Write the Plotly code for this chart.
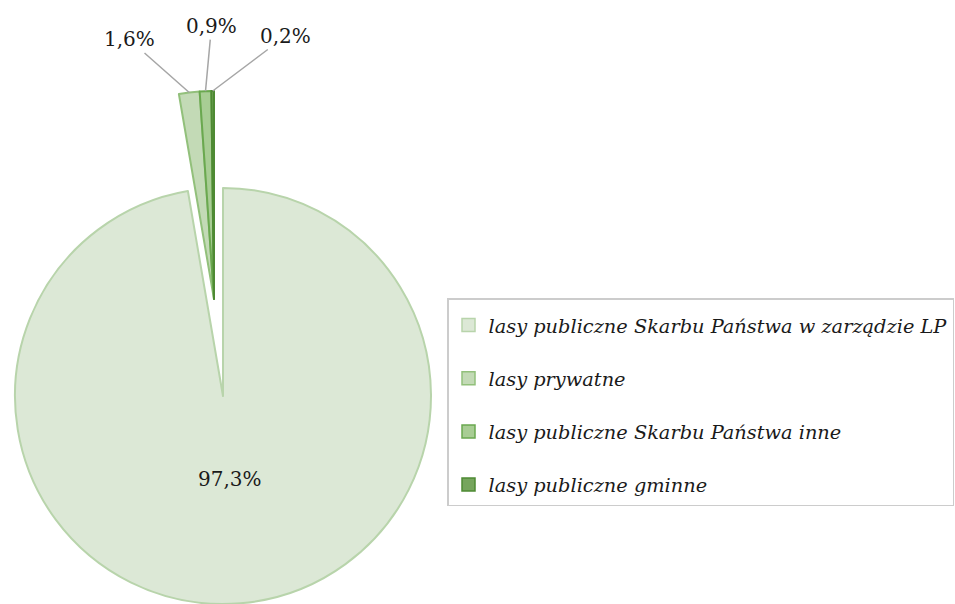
import math
import plotly.graph_objects as go

# ---- data ----
labels = [
    "lasy publiczne Skarbu Państwa w zarządzie LP",
    "lasy prywatne",
    "lasy publiczne Skarbu Państwa inne",
    "lasy publiczne gminne",
]
values = [97.3, 1.6, 0.9, 0.2]

# ---- styles ----
fill_colors = ["#dce8d6", "#c3dab6", "#a8cd94", "#76a55d"]
line_colors = ["#b8d4ab", "#92c07b", "#6aa84f", "#4e8a33"]
TRANSPARENT = "rgba(0,0,0,0)"
FONT = "DejaVu Serif"
TEXT_COLOR = "#1a1a1a"
LEADER_COLOR = "#a6a6a6"

W, H = 955, 604
R = 208
big_center = (223, 396)      # main pie centre (px)
small_center = (214, 299)    # exploded group centre (px)
# label offsets (px) from slice edge midpoint for the exploded slices
label_offsets = [None, (-60, -53), (6, -65), (73, -55)]
big_label_frac = 0.40


def dom_x(cx, r):
    return [(cx - r) / W, (cx + r) / W]


def dom_y(cy, r):
    return [max(0.0, 1 - (cy + r) / H), min(1.0, 1 - (cy - r) / H)]


def fmt_pct(v, total):
    return f"{v / total * 100:.1f}%".replace(".", ",")


fig = go.Figure()

# main slice (others hidden)
fig.add_trace(go.Pie(
    labels=labels, values=values, sort=False, direction="clockwise", rotation=0,
    domain=dict(x=dom_x(big_center[0], R), y=dom_y(big_center[1], R)),
    marker=dict(colors=[fill_colors[0]] + [TRANSPARENT] * 3,
                line=dict(color=[line_colors[0]] + [TRANSPARENT] * 3, width=2)),
    textinfo="none",
    showlegend=False, hoverinfo="skip",
))

# exploded small slices (main hidden)
fig.add_trace(go.Pie(
    labels=labels, values=values, sort=False, direction="clockwise", rotation=0,
    domain=dict(x=dom_x(small_center[0], R), y=dom_y(small_center[1], R)),
    marker=dict(colors=[TRANSPARENT] + fill_colors[1:],
                line=dict(color=[TRANSPARENT] + line_colors[1:], width=2)),
    textinfo="none",
    showlegend=False, hoverinfo="skip",
))

# legend entries
for i, (lab, fc, lc) in enumerate(zip(labels, fill_colors, line_colors)):
    fig.add_trace(go.Scatter(
        x=[None], y=[None], mode="markers", name=lab, legendgroup=f"g{i}",
        marker=dict(symbol="square", size=13, color=fc, line=dict(color=lc, width=1.5)),
        hoverinfo="skip",
    ))

# data labels, placed from the slice angles
total = sum(values)
cum = 0.0
for i, v in enumerate(values):
    mid = math.radians((cum + v / 2) / total * 360.0)
    cum += v
    if i == 0:
        cx, cy = big_center
        px = cx + R * big_label_frac * math.sin(mid)
        py = cy - R * big_label_frac * math.cos(mid)
        fig.add_annotation(
            x=px / W, y=1 - py / H, xref="paper", yref="paper",
            xanchor="center", yanchor="middle",
            text=fmt_pct(v, total), showarrow=False,
            font=dict(family=FONT, size=20, color=TEXT_COLOR),
        )
    else:
        cx, cy = small_center
        px = cx + R * math.sin(mid)
        py = cy - R * math.cos(mid)
        ax, ay = label_offsets[i]
        fig.add_annotation(
            x=px / W, y=1 - py / H, xref="paper", yref="paper",
            text=fmt_pct(v, total), showarrow=True, arrowhead=0,
            arrowwidth=1.5, arrowcolor=LEADER_COLOR, standoff=0,
            ax=ax, ay=ay,
            font=dict(family=FONT, size=20, color=TEXT_COLOR),
        )

fig.update_layout(
    width=W, height=H,
    margin=dict(l=0, r=0, t=0, b=0),
    paper_bgcolor="white", plot_bgcolor="white",
    xaxis=dict(visible=False), yaxis=dict(visible=False),
    showlegend=True,
    legend=dict(
        x=447 / W, y=1 - 298 / H, xanchor="left", yanchor="top",
        bordercolor="#cccccc", borderwidth=1.5, bgcolor="white",
        font=dict(family=FONT, size=19.35, color=TEXT_COLOR, style="italic"),
        title=dict(text="\u00a0", font=dict(size=5)),
        tracegroupgap=25,
    ),
)

fig.write_html(
    "out.html",
    config={"displayModeBar": False},
    post_script="document.body.style.margin='0px';",
)
